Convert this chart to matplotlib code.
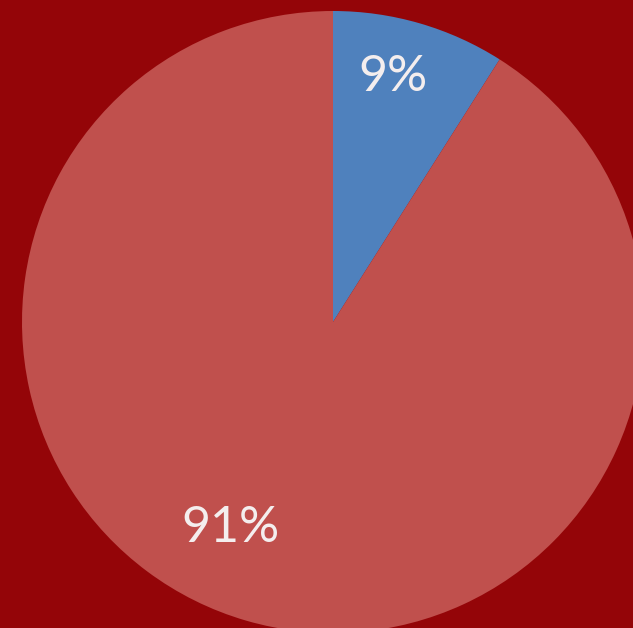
from matplotlib import pyplot as plt

# slice values, percent
labels = ['9%', '91%']
values = [9, 91]
colors = ['#4f81bd', '#c0504d']

W, H = 633, 628
bg = '#940508'
fig = plt.figure(figsize=(W/100, H/100), dpi=100)
fig.patch.set_facecolor(bg)
ax = fig.add_axes([0, 0, 1, 1])
ax.set_facecolor(bg)

cx, cy, r = 333, H - 322, 311
wedges, _ = ax.pie(values, colors=colors, startangle=90, counterclock=False,
                   center=(cx, cy), radius=r, frame=True,
                   wedgeprops=dict(linewidth=0))
ax.set_xlim(0, W)
ax.set_ylim(0, H)
ax.set_aspect('equal')
ax.axis('off')

#label spots, relative to the radius (Excel "best fit" placement)
offsets = [(0.193, 0.788), (-0.331, -0.662)]
for lab, (dx, dy) in zip(labels, offsets):
    ax.text(cx + dx*r, cy + dy*r, lab, ha='center', va='center',
            color='#f4eeee', fontsize=36, family=['Lato', 'DejaVu Sans'])

plt.savefig('out.png', dpi=100, facecolor=fig.get_facecolor())
plt.close()
